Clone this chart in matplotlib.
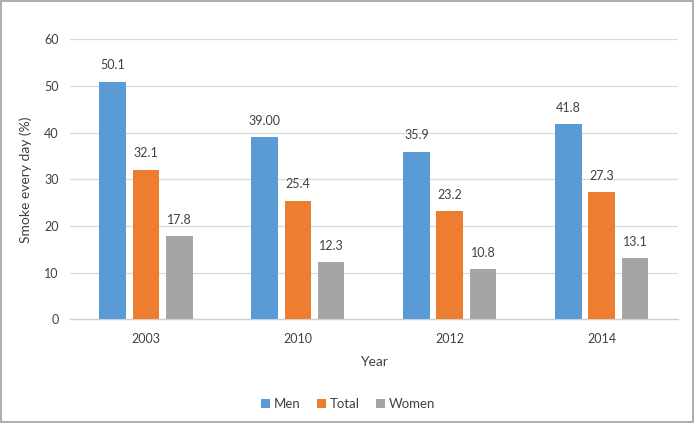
import matplotlib
matplotlib.use("Agg")
import matplotlib.pyplot as plt
from matplotlib.patches import Rectangle
import numpy as np

years = ["2003", "2010", "2012", "2014"]
men = [50.9, 39.0, 35.9, 41.8]
total = [32.1, 25.4, 23.2, 27.3]
women = [17.8, 12.3, 10.8, 13.1]
men_labels = ["50.1", "39.00", "35.9", "41.8"]
total_labels = ["32.1", "25.4", "23.2", "27.3"]
women_labels = ["17.8", "12.3", "10.8", "13.1"]
series_names = ["Men", "Total", "Women"]
colors = ["#5B9BD5", "#ED7D31", "#A5A5A5"]

plt.rcParams['font.family'] = ['Lato', 'DejaVu Sans']

fig = plt.figure(figsize=(6.96, 4.23), dpi=100)
ax = fig.add_axes([0.1006, 0.245, 0.873, 0.662])

x = np.arange(len(years))
w = 0.175
step = 0.219
data = [(men, men_labels), (total, total_labels), (women, women_labels)]
for i, ((vals, labs), name, c) in enumerate(zip(data, series_names, colors)):
    pos = x + (i - 1) * step
    bars = ax.bar(pos, vals, width=w, color=c, label=name, zorder=3)
    for b, lab in zip(bars, labs):
        ax.annotate(lab, (b.get_x() + b.get_width() / 2, b.get_height()),
                    xytext=(0, 7.5), textcoords="offset points",
                    ha="center", va="bottom", fontsize=9, color="#404040")

ax.set_xlim(-0.5, len(years) - 0.5)
ax.set_ylim(0, 60)
ax.set_yticks(range(0, 61, 10))
ax.set_xticks(x)
ax.set_xticklabels(years)
ax.tick_params(axis='both', length=0, labelsize=9, colors="#404040")
ax.tick_params(axis='x', pad=10)
ax.tick_params(axis='y', pad=8)
ax.grid(axis='y', color="#D9D9D9", linewidth=0.9, zorder=0)
for s in ["top", "right", "left"]:
    ax.spines[s].set_visible(False)
ax.spines["bottom"].set_color("#D0D0D0")
ax.spines["bottom"].set_linewidth(1.0)

ax.set_ylabel("Smoke every day (%)", fontsize=10, color="#404040", labelpad=9)
ax.set_xlabel("Year", fontsize=10, color="#404040", labelpad=8)

leg = fig.legend(loc="center", bbox_to_anchor=(0.5, 0.045), ncol=3, frameon=False,
                 fontsize=9.5, handlelength=0.7, handleheight=0.7, handletextpad=0.3,
                 columnspacing=1.2, labelcolor="#404040")

fig.patches.append(Rectangle((0.002, 0.003), 0.994, 0.994, transform=fig.transFigure,
                             fill=False, edgecolor="#A0A0A0", linewidth=1.2))

fig.savefig("out.png", dpi=100)
